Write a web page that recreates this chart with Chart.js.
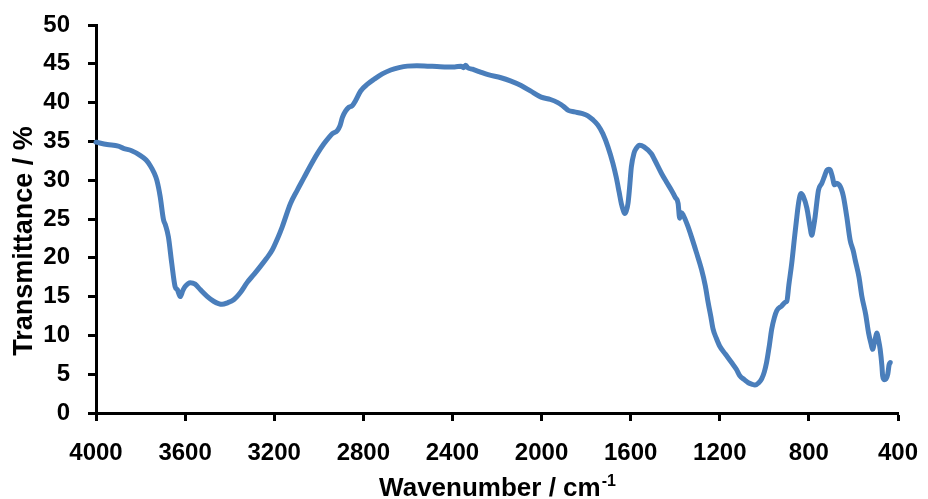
<!DOCTYPE html>
<html>
<head>
<meta charset="utf-8">
<title>FTIR spectrum</title>
<script src="https://cdn.jsdelivr.net/npm/chart.js@4.4.1/dist/chart.umd.min.js"></script>
<style>
  html, body { margin: 0; padding: 0; background: #fff; }
  canvas { display: block; }
</style>
</head>
<body>
<canvas id="irChart" width="928" height="499"></canvas>
<script>
// spectrum, read from high to low wavenumber
const wavenumber = [
    4000, 3950, 3900, 3877, 3840, 3802, 3775, 3757, 3740, 3727,
    3712, 3697, 3688, 3675, 3660, 3645, 3635, 3622, 3610, 3600,
    3577, 3555, 3532, 3500, 3472, 3450, 3434, 3410, 3382, 3350,
    3322, 3290, 3262, 3235, 3209, 3185, 3164, 3127, 3097, 3067,
    3037, 3007, 2977, 2955, 2939, 2917, 2905, 2894, 2880, 2865,
    2850, 2834, 2812, 2780, 2752, 2715, 2677, 2640, 2602, 2560,
    2512, 2470, 2422, 2390, 2362, 2350, 2340, 2332, 2310, 2280,
    2240, 2182, 2140, 2092, 2050, 2002, 1960, 1927, 1910, 1897,
    1880, 1852, 1820, 1792, 1770, 1747, 1725, 1702, 1680, 1665,
    1652, 1642, 1632, 1627, 1620, 1612, 1605, 1597, 1585, 1575,
    1560, 1540, 1507, 1492, 1462, 1440, 1417, 1400, 1387, 1380,
    1372, 1364, 1345, 1327, 1305, 1282, 1265, 1252, 1240, 1230,
    1215, 1200, 1175, 1147, 1125, 1110, 1090, 1072, 1055, 1042,
    1025, 1012, 1000, 990, 978, 967, 955, 944, 922, 905,
    899, 890, 877, 865, 854, 845, 835, 825, 809, 795,
    787, 780, 772, 765, 757, 742, 730, 719, 710, 704,
    695, 685, 675, 664, 655, 645, 630, 615, 600, 592,
    575, 562, 545, 532, 520, 514, 505, 494, 488, 480,
    472, 469, 462, 454, 446, 440, 435
];
const transmittance = [
    34.9, 34.6, 34.4, 34.1, 33.8, 33.2, 32.6, 31.9, 31.0, 30.0,
    27.9, 24.9, 24.2, 22.7, 19.3, 16.3, 15.9, 15.0, 15.8, 16.3,
    16.8, 16.6, 15.9, 15.0, 14.4, 14.1, 14.0, 14.2, 14.6, 15.6,
    16.8, 17.9, 18.9, 19.9, 21.0, 22.5, 24.0, 27.0, 28.7, 30.3,
    31.9, 33.4, 34.7, 35.5, 36.0, 36.4, 37.0, 38.1, 38.9, 39.4,
    39.6, 40.3, 41.5, 42.4, 43.0, 43.7, 44.2, 44.5, 44.7, 44.75,
    44.7, 44.65, 44.6, 44.6, 44.7, 44.5, 44.8, 44.5, 44.3, 44.0,
    43.6, 43.2, 42.8, 42.2, 41.5, 40.7, 40.4, 40.0, 39.7, 39.4,
    39.0, 38.8, 38.6, 38.3, 37.8, 37.1, 36.0, 34.3, 32.2, 30.4,
    28.5, 27.0, 26.0, 25.7, 26.0, 27.0, 29.0, 31.7, 33.5, 34.1,
    34.5, 34.3, 33.4, 32.6, 30.9, 29.8, 28.7, 27.8, 27.0, 25.1,
    25.8, 25.5, 24.2, 22.7, 20.7, 18.5, 16.4, 14.2, 12.4, 10.8,
    9.6, 8.6, 7.6, 6.5, 5.6, 4.8, 4.3, 3.9, 3.7, 3.6,
    3.9, 4.4, 5.3, 6.5, 8.6, 10.8, 12.3, 13.2, 13.8, 14.3,
    14.4, 16.5, 19.3, 22.5, 25.3, 27.3, 28.3, 27.9, 26.4, 24.0,
    22.9, 23.8, 25.3, 27.0, 28.7, 29.6, 30.5, 31.3, 31.4, 31.3,
    30.5, 29.4, 29.6, 29.4, 28.9, 27.9, 25.3, 22.3, 20.8, 19.7,
    17.5, 15.0, 12.7, 10.3, 8.8, 8.2, 9.2, 10.3, 9.5, 8.2,
    6.0, 4.8, 4.3, 4.4, 5.0, 6.2, 6.5
];

const xTicks = [4000, 3600, 3200, 2800, 2400, 2000, 1600, 1200, 800, 400];
const yTicks = [0, 5, 10, 15, 20, 25, 30, 35, 40, 45, 50];

const xTitle = "Wavenumber / cm";
const xTitleSup = "-1";
const yTitle = "Transmittance / %";

const fontFamily = "'Liberation Sans', Arial, Helvetica, sans-serif";

// axis titles drawn by hand so the unit can carry a superscript
const axisTitles = {
    id: "axisTitles",
    afterDraw(chart) {
        const c = chart.ctx;
        const area = chart.chartArea;
        c.save();
        c.fillStyle = "#000";
        c.textBaseline = "alphabetic";

        c.font = "bold 27px " + fontFamily;
        c.textAlign = "center";
        c.translate(32, area.bottom - 172);
        c.rotate(-Math.PI / 2);
        c.fillText(yTitle, 0, 0);
        c.setTransform(1, 0, 0, 1, 0, 0);

        c.textAlign = "left";
        c.font = "bold 26px " + fontFamily;
        const w1 = c.measureText(xTitle).width;
        c.font = "bold 16px " + fontFamily;
        const w2 = c.measureText(xTitleSup).width;
        const x0 = (area.left + area.right) / 2 - (w1 + w2) / 2;
        const base = 496;
        c.font = "bold 26px " + fontFamily;
        c.fillText(xTitle, x0, base);
        c.font = "bold 16px " + fontFamily;
        c.fillText(xTitleSup, x0 + w1 + 1, base - 10);
        c.restore();
    }
};

// fixed axis sizes, and no extra room asked for overhanging labels
function fixX(axis) {
    axis.height = 86;
    axis.paddingLeft = axis.paddingRight = axis.paddingTop = axis.paddingBottom = 0;
}
function fixY(axis) {
    axis.width = 96;
    axis.paddingLeft = axis.paddingRight = axis.paddingTop = axis.paddingBottom = 0;
}

const ctx = document.getElementById("irChart");
const points = wavenumber.map((w, i) => ({ x: w, y: transmittance[i] }));

new Chart(ctx, {
    type: "line",
    data: {
        datasets: [{
            data: points,
            borderColor: "#4a7ebb",
            borderWidth: 5,
            borderCapStyle: "round",
            borderJoinStyle: "round",
            pointRadius: 0,
            cubicInterpolationMode: "monotone",
            fill: false,
            clip: false
        }]
    },
    options: {
        responsive: false,
        animation: false,
        devicePixelRatio: 1,
        layout: { padding: { left: 0, right: 30, top: 25, bottom: 0 } },
        scales: {
            x: {
                type: "linear",
                reverse: true,
                min: 400,
                max: 4000,
                afterBuildTicks: axis => { axis.ticks = xTicks.map(v => ({ value: v })); },
                afterFit: fixX,
                border: { display: true, color: "#000", width: 3 },
                grid: {
                    drawOnChartArea: false,
                    drawTicks: true,
                    tickLength: 8,
                    tickWidth: 3,
                    tickColor: "#000"
                },
                ticks: {
                    autoSkip: false,
                    maxRotation: 0,
                    padding: 18,
                    color: "#000",
                    font: { family: fontFamily, size: 24, weight: "bold" },
                    callback: v => String(v)
                }
            },
            y: {
                min: 0,
                max: 50,
                afterBuildTicks: axis => { axis.ticks = yTicks.map(v => ({ value: v })); },
                afterFit: fixY,
                border: { display: true, color: "#000", width: 3 },
                grid: {
                    drawOnChartArea: false,
                    drawTicks: true,
                    tickLength: 8,
                    tickWidth: 3,
                    tickColor: "#000"
                },
                ticks: {
                    padding: 18,
                    color: "#000",
                    font: { family: fontFamily, size: 24, weight: "bold" },
                    callback: v => String(v)
                }
            }
        },
        plugins: {
            legend: { display: false },
            tooltip: { enabled: false }
        }
    },
    plugins: [axisTitles]
});
</script>
</body>
</html>
